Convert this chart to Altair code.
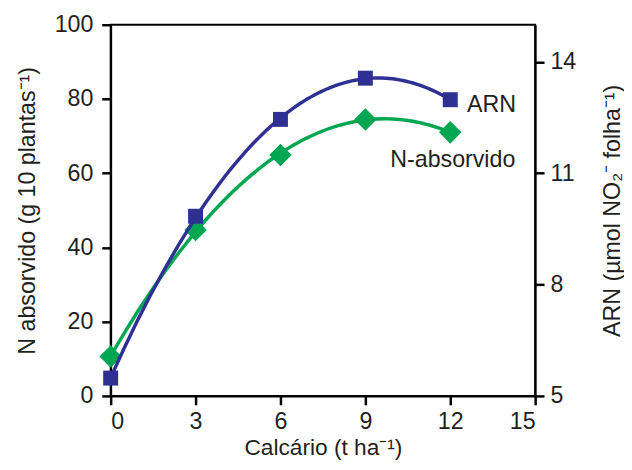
import altair as alt
import pandas as pd

calcario = [0, 3, 6, 9, 12]
n_absorvido = [10.6, 44.7, 64.9, 74.5, 71.0]
arn = [5.48, 9.84, 12.45, 13.56, 12.98]
series_labels = ["ARN", "N-absorvido"]

df = pd.DataFrame({"x": calcario, "n": n_absorvido, "arn": arn})
lab_df = pd.DataFrame({"label": series_labels})

BLUE = "#2E3192"
GREEN = "#00A651"
FONT = "Liberation Sans"
TXT = "#231F20"
FS = 23.5

base = alt.Chart(df)
labs = alt.Chart(lab_df)

xenc = alt.X("x:Q", scale=alt.Scale(domain=[0, 15], nice=False),
             axis=alt.Axis(values=[0, 3, 6, 9, 12, 15], title="Calcário (t ha⁻¹)",
                           labelPadding=5.5, titleBaseline="alphabetic", titleY=59,
                           titleFontSize=23))

yleft = alt.Y("n:Q", scale=alt.Scale(domain=[0, 100], nice=False),
              axis=alt.Axis(orient="left", values=[0, 20, 40, 60, 80, 100],
                            title="N absorvido (g 10 plantas⁻¹)", labelPadding=9,
                            titlePadding=15))
yright = alt.Y("arn:Q", scale=alt.Scale(domain=[5, 15], nice=False),
               axis=alt.Axis(orient="right", values=[5, 8, 11, 14],
                             title="ARN (µmol NO₂⁻ folha⁻¹)", titleAngle=270,
                             labelPadding=6, titlePadding=49))

n_line = base.transform_regression("x", "n", method="poly", order=2, extent=[0, 12]).mark_line(
    color=GREEN, strokeWidth=3.5).encode(x=xenc, y=yleft)
n_pts = base.mark_point(shape="diamond", filled=True, opacity=1, size=520, color=GREEN).encode(x=xenc, y=yleft)
n_lab = labs.transform_filter(alt.datum.label == "N-absorvido").mark_text(
    font=FONT, fontSize=FS, fontWeight="normal", color=TXT,
    align="center", baseline="middle").encode(x=alt.datum(12.09), y=alt.datum(63.6), text="label:N")

a_line = base.transform_regression("x", "arn", method="poly", order=2, extent=[0, 12]).mark_line(
    color=BLUE, strokeWidth=3.5).encode(x=xenc, y=yright)
a_pts = base.mark_point(shape="square", filled=True, opacity=1, size=230, color=BLUE).encode(x=xenc, y=yright)
a_lab = labs.transform_filter(alt.datum.label == "ARN").mark_text(
    font=FONT, fontSize=FS, fontWeight="normal", color=TXT,
    align="left", baseline="middle").encode(x=alt.datum(12.59), y=alt.datum(12.83), text="label:N")

left = alt.layer(n_line, n_pts, n_lab)
right = alt.layer(a_line, a_pts, a_lab)

chart = alt.layer(left, right).resolve_scale(y="independent").properties(
    width=430, height=376,
    autosize=alt.AutoSizeParams(type="none"),
    padding={"left": 104, "top": 14, "right": 90, "bottom": 64},
).configure_view(stroke="black", strokeWidth=2).configure_axis(
    labelFont=FONT, titleFont=FONT, labelFontSize=FS, titleFontSize=FS,
    labelColor=TXT, titleColor=TXT, titleFontWeight="normal",
    domainColor="black", domainWidth=2, tickColor="black", tickWidth=2.5, tickSize=9,
    grid=False,
)

chart.save("out.html", embed_options={"renderer": "svg", "actions": False})
